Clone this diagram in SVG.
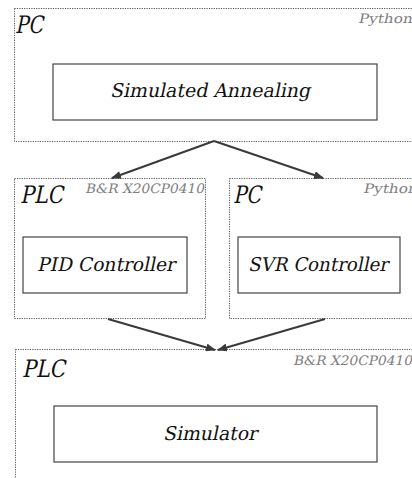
<svg xmlns="http://www.w3.org/2000/svg" width="412" height="478" viewBox="0 0 412 478">
<defs>
<marker id="ah" markerWidth="10" markerHeight="8" refX="9" refY="4" orient="auto" markerUnits="userSpaceOnUse">
<path d="M0,0 L10,4 L0,8 Z" fill="#3a3a3a"/>
</marker>
</defs>
<style>
.cont{fill:none;stroke:#555;stroke-width:1;stroke-dasharray:1.2 1.2}
.box{fill:#fff;stroke:#444;stroke-width:1.2}
text{font-family:"DejaVu Serif","Liberation Serif",serif;font-style:normal}
.big{font-size:24px;fill:#111}
.lbl{font-size:19px;fill:#111}
.tag{font-size:13px;fill:#808080}
.conn{stroke:#3a3a3a;stroke-width:2;fill:none;marker-end:url(#ah)}
</style>
<g id="pc-top">
<rect class="cont" x="14.5" y="8.5" width="410" height="133"/>
<text class="big" transform="translate(15,33) skewX(-12)" textLength="28" lengthAdjust="spacingAndGlyphs">PC</text>
<text class="tag" transform="translate(358,23) skewX(-12)" textLength="54" lengthAdjust="spacingAndGlyphs">Python</text>
</g>
<g id="simulated-annealing">
<rect class="box" x="53" y="64" width="324" height="56"/>
<text class="lbl" transform="translate(110,97) skewX(-12)" textLength="200" lengthAdjust="spacingAndGlyphs">Simulated Annealing</text>
</g>
<g id="plc-mid">
<rect class="cont" x="14.5" y="178.5" width="191" height="140"/>
<text class="big" transform="translate(20,203) skewX(-12)" textLength="43" lengthAdjust="spacingAndGlyphs">PLC</text>
<text class="tag" transform="translate(85,193) skewX(-12)" textLength="119" lengthAdjust="spacingAndGlyphs">B&amp;R X20CP0410</text>
</g>
<g id="pid-controller">
<rect class="box" x="23" y="237" width="164" height="56"/>
<text class="lbl" transform="translate(37,271) skewX(-12)" textLength="138" lengthAdjust="spacingAndGlyphs">PID Controller</text>
</g>
<g id="pc-mid">
<rect class="cont" x="229.5" y="178.5" width="200" height="140"/>
<text class="big" transform="translate(233,203) skewX(-12)" textLength="28" lengthAdjust="spacingAndGlyphs">PC</text>
<text class="tag" transform="translate(363,193) skewX(-12)" textLength="54" lengthAdjust="spacingAndGlyphs">Python</text>
</g>
<g id="svr-controller">
<rect class="box" x="238" y="237" width="162" height="56"/>
<text class="lbl" transform="translate(248,271) skewX(-12)" textLength="140" lengthAdjust="spacingAndGlyphs">SVR Controller</text>
</g>
<g id="plc-bottom">
<rect class="cont" x="15.5" y="349.5" width="410" height="140"/>
<text class="big" transform="translate(22,377) skewX(-12)" textLength="43" lengthAdjust="spacingAndGlyphs">PLC</text>
<text class="tag" transform="translate(293,365) skewX(-12)" textLength="119" lengthAdjust="spacingAndGlyphs">B&amp;R X20CP0410</text>
</g>
<g id="simulator">
<rect class="box" x="54" y="406" width="323" height="56"/>
<text class="lbl" transform="translate(163,440) skewX(-12)" textLength="94" lengthAdjust="spacingAndGlyphs">Simulator</text>
</g>
<g id="connectors">
<line class="conn" x1="214" y1="141" x2="112" y2="178"/>
<line class="conn" x1="214" y1="141" x2="323" y2="178"/>
<line class="conn" x1="108" y1="319" x2="215" y2="350"/>
<line class="conn" x1="325" y1="319" x2="218" y2="350"/>
</g>
</svg>
